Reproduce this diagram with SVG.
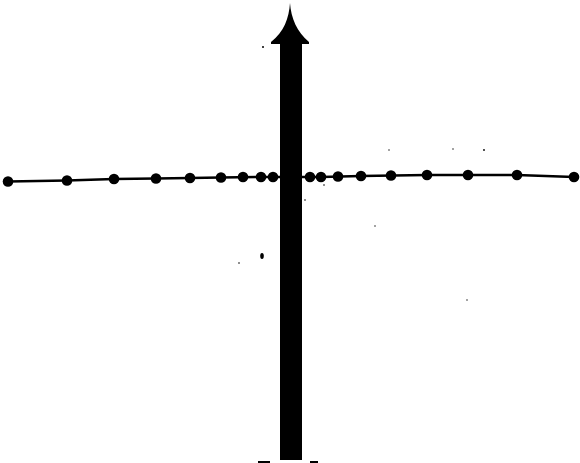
<svg xmlns="http://www.w3.org/2000/svg" width="580" height="463" viewBox="0 0 580 463">
<style>
.dot{fill:#000}
.ln{fill:none;stroke:#000;stroke-width:2.5}
.sp{fill:#000}
</style>
<rect width="580" height="463" fill="#fff"/>
<g id="connectors">
<path class="ln" d="M8,181.5 L67,180.5 L114,179 L156,178.5 L190,178 L221,177.5 L261,177 L290,177 L321,177 L361,176 L427,175 L468,175 L517,175 L574,177"/>
</g>
<g id="arrow">
<path d="M290,3 C289,18 284,32 271,42 L271,44 L280,44 L280,460 L302,460 L302,44 L309,44 L309,42 C297,32 291,18 290,3 Z" fill="#000"/>
</g>
<g id="points">
<circle class="dot" cx="8" cy="181.5" r="5.3"/>
<circle class="dot" cx="67" cy="180.5" r="5.3"/>
<circle class="dot" cx="114" cy="179" r="5.3"/>
<circle class="dot" cx="156" cy="178.5" r="5.3"/>
<circle class="dot" cx="190" cy="178" r="5.3"/>
<circle class="dot" cx="221" cy="177.5" r="5.3"/>
<circle class="dot" cx="243" cy="177" r="5.3"/>
<circle class="dot" cx="261" cy="177" r="5.3"/>
<circle class="dot" cx="273" cy="177" r="5.3"/>
<circle class="dot" cx="310" cy="177" r="5.3"/>
<circle class="dot" cx="321" cy="177" r="5.3"/>
<circle class="dot" cx="338" cy="176.5" r="5.3"/>
<circle class="dot" cx="361" cy="176" r="5.3"/>
<circle class="dot" cx="391" cy="175.5" r="5.3"/>
<circle class="dot" cx="427" cy="175" r="5.3"/>
<circle class="dot" cx="468" cy="175" r="5.3"/>
<circle class="dot" cx="517" cy="175" r="5.3"/>
<circle class="dot" cx="574" cy="177" r="5.3"/>
</g>
<g id="specks">
<ellipse class="sp" cx="262" cy="256" rx="1.8" ry="3"/>
<circle class="sp" cx="263" cy="47" r="1"/>
<circle class="sp" cx="239" cy="263" r="0.8"/>
<circle class="sp" cx="389" cy="150" r="0.7"/>
<circle class="sp" cx="453" cy="149" r="0.7"/>
<circle class="sp" cx="484" cy="150" r="0.9"/>
<circle class="sp" cx="375" cy="226" r="0.7"/>
<circle class="sp" cx="467" cy="300" r="0.7"/>
<circle class="sp" cx="305" cy="200" r="0.8"/>
<circle class="sp" cx="324" cy="185" r="0.8"/>
<rect class="sp" x="258" y="461" width="12" height="2"/>
<rect class="sp" x="310" y="461" width="8" height="2"/>
</g>
</svg>
